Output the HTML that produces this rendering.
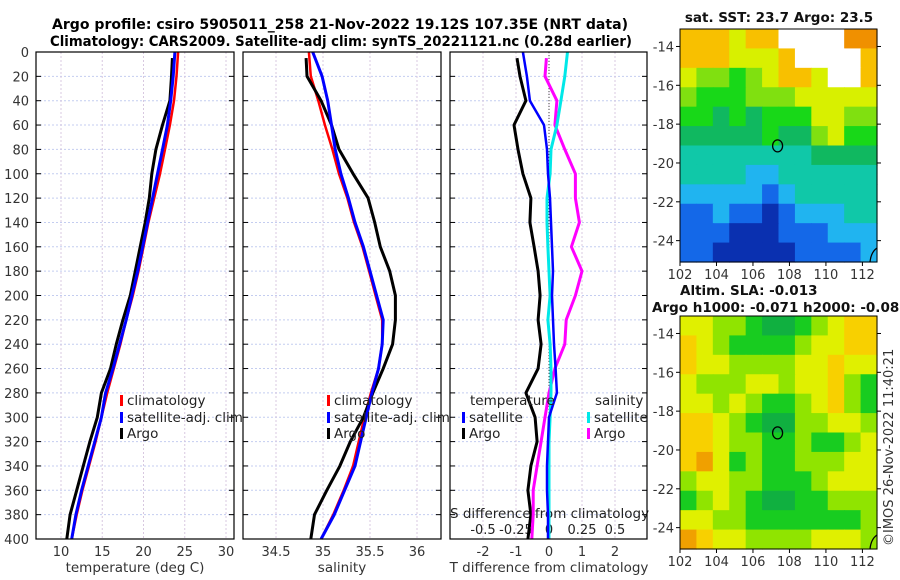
<!DOCTYPE html>
<html><head><meta charset="utf-8"><style>
body{margin:0;background:#fff;}
svg{display:block;font-family:"DejaVu Sans","Liberation Sans",sans-serif;}
</style></head><body>
<svg id="chart" width="900" height="580" viewBox="0 0 900 580" xmlns="http://www.w3.org/2000/svg">
<rect width="900" height="580" fill="#fff"/>
<text x="340" y="29" text-anchor="middle" font-size="14.5" font-weight="bold" font-family="DejaVu Sans, sans-serif" textLength="576" lengthAdjust="spacingAndGlyphs">Argo profile: csiro 5905011_258 21-Nov-2022 19.12S 107.35E (NRT data)</text>
<text x="341" y="46" text-anchor="middle" font-size="14.5" font-weight="bold" font-family="DejaVu Sans, sans-serif" textLength="582" lengthAdjust="spacingAndGlyphs">Climatology: CARS2009. Satellite-adj clim: synTS_20221121.nc (0.28d earlier)</text>
<g id="g"></g>
</svg>
<script>
// ---- profile data (depth in m) ----
const depths = [0,20,40,60,80,100,120,140,160,180,200,220,240,260,280,300,320,340,360,380,400];
const argoDepths = [5,20,40,60,80,100,120,140,160,180,200,220,240,260,280,300,320,340,360,380,400];
const tempClim = [24.2,24.0,23.7,23.2,22.6,22.0,21.3,20.6,20.0,19.4,18.7,17.9,17.2,16.4,15.6,14.9,14.2,13.4,12.6,11.9,11.3];
const tempSat  = [23.8,23.6,23.3,22.9,22.3,21.7,21.1,20.5,19.9,19.3,18.6,17.9,17.1,16.3,15.4,14.9,14.1,13.3,12.5,11.8,11.3];
const tempArgo = [23.5,23.4,23.2,22.3,21.5,21.0,20.7,20.2,19.6,19.0,18.4,17.5,16.7,16.0,14.9,14.4,13.5,12.7,11.9,11.1,10.7];
const salClim = [34.85,34.87,34.95,35.02,35.10,35.17,35.26,35.33,35.42,35.49,35.56,35.63,35.63,35.59,35.51,35.44,35.38,35.32,35.22,35.11,34.98];
const salSat  = [34.89,34.99,35.05,35.09,35.13,35.19,35.27,35.34,35.43,35.50,35.57,35.64,35.63,35.59,35.52,35.46,35.40,35.34,35.23,35.12,34.98];
const salArgo = [34.82,34.83,34.98,35.09,35.17,35.32,35.48,35.55,35.61,35.71,35.77,35.77,35.74,35.64,35.53,35.43,35.29,35.18,35.04,34.91,34.87];
const tDiffSat  = [-0.79,-0.67,-0.58,-0.15,-0.06,-0.03,0.03,0.06,0.09,0.12,0.09,0.12,0.15,0.2,0.24,0.0,-0.03,-0.06,-0.06,-0.03,-0.03];
const tDiffArgo = [-0.97,-0.88,-0.7,-1.06,-0.94,-0.79,-0.55,-0.58,-0.45,-0.33,-0.27,-0.33,-0.24,-0.33,-0.7,-0.42,-0.36,-0.55,-0.64,-0.55,-0.64];
const sDiffSat  = [0.14,0.12,0.09,0.06,0.015,0.008,-0.015,-0.015,-0.008,0.0,0.008,-0.008,0.008,0.015,0.015,0.008,0.0,0.0,0.0,0.0,0.0];
const sDiffArgo = [-0.02,-0.03,0.06,0.045,0.12,0.2,0.2,0.23,0.17,0.25,0.2,0.13,0.12,0.045,0.0,-0.03,-0.06,-0.09,-0.12,-0.12,-0.13];
const depthTicks = [0,20,40,60,80,100,120,140,160,180,200,220,240,260,280,300,320,340,360,380,400];
const tempTicks = [10,15,20,25,30];
const salTicks = [34.5,35,35.5,36];
const tDiffTicks = [-2,-1,0,1,2];
const sDiffTicks = [-0.5,-0.25,0,0.25,0.5];
const sDiffTickLabels = ['-0.5','-0.25','0','0.25','0.5'];
// ---- map data (colour class per cell, rows north->south, cols west->east) ----
const sstGrid = [
[8,8,8,7,8,8,-1,-1,-1,-1,9,9],
[8,8,8,7,7,7,8,-1,-1,-1,-1,8],
[7,6,6,5,6,7,8,8,7,-1,-1,8],
[6,5,5,5,6,6,6,7,7,7,7,7],
[5,5,4,5,4,5,5,5,7,7,6,6],
[4,4,4,4,4,5,4,4,6,7,5,5],
[3,3,3,3,3,3,3,3,4,4,4,4],
[3,3,3,3,2,2,3,3,3,3,3,3],
[2,2,2,2,2,1,2,3,3,3,3,3],
[1,1,2,1,1,0,1,2,2,2,3,3],
[1,1,1,0,0,0,1,1,1,2,2,2],
[1,1,0,0,0,0,0,1,1,1,1,2]];
const slaGrid = [
[7,7,6,6,5,4,4,5,6,7,8,8],
[8,7,6,5,5,5,5,6,7,7,8,8],
[8,7,7,6,6,6,6,7,7,8,7,7],
[7,6,6,6,7,7,6,7,7,8,6,5],
[7,7,6,7,6,5,5,6,7,8,6,5],
[8,8,7,6,5,4,4,6,6,7,7,6],
[8,8,7,6,6,5,5,6,5,5,6,7],
[8,9,7,5,6,5,5,6,6,6,7,7],
[6,7,7,6,6,5,5,5,6,7,7,7],
[5,6,7,6,5,4,4,5,5,6,6,6],
[7,7,6,6,5,5,5,5,5,5,5,6],
[9,8,7,7,6,6,6,6,7,7,7,6]];
const lonTicks = [102,104,106,108,110,112];
const latTicks = [-14,-16,-18,-20,-22,-24];
const argoLon = 107.35, argoLat = -19.12;

const NS='http://www.w3.org/2000/svg';
const G=document.getElementById('g');
function el(tag,attrs,parent){const e=document.createElementNS(NS,tag);for(const k in attrs)e.setAttribute(k,attrs[k]);(parent||G).appendChild(e);return e;}
function txt(s,attrs,parent){const e=el('text',attrs,parent);e.textContent=s;return e;}

const PT=52,PB=539;
const yD=d=>PT+(d/400)*(PB-PT);
function lin(d0,d1,r0,r1){return v=>r0+(v-d0)/(d1-d0)*(r1-r0);}
const panels=[
 {x0:36,x1:234,sx:lin(10,30,61,226),ticks:tempTicks,lab:tempTicks.map(String),name:'temperature-panel',xl:'temperature (deg C)'},
 {x0:243,x1:441,sx:lin(35,36,323,417),ticks:salTicks,lab:salTicks.map(String),name:'salinity-panel',xl:'salinity'},
 {x0:450,x1:647,sx:lin(0,1,549,582),ticks:tDiffTicks,lab:tDiffTicks.map(String),name:'difference-panel',xl:'T difference from climatology'}
];
panels.forEach((p,pi)=>{
  const g=el('g',{});
  
  
  depthTicks.forEach(d=>{
    const l=el('line',{x1:p.x0,x2:p.x1,y1:yD(d),y2:yD(d),stroke:'#c4cdf0','stroke-width':1,'stroke-dasharray':'2,2'},g);
    
    
    const t=el('line',{x1:p.x1-5,x2:p.x1,y1:yD(d),y2:yD(d),stroke:'#000'},g);
    
    
    const t2=el('line',{x1:p.x0,x2:p.x0+5,y1:yD(d),y2:yD(d),stroke:'#000'},g);
    
    
  });
  p.ticks.forEach((v,i)=>{
    const x=p.sx(v);
    const l=el('line',{x1:x,x2:x,y1:PT,y2:PB,stroke:'#d8c8e0','stroke-width':1,'stroke-dasharray':'2,2'},g);
    
    
    const t=txt(p.lab[i],{x:x,y:556,'text-anchor':'middle','font-size':13,fill:'#333'},g);
    
    
  });
  const xl=txt(p.xl,{x:(pi==2?549:(p.x0+p.x1)/2),y:572,'text-anchor':'middle','font-size':13.5,fill:'#333'},g);
  
  
  p.g=g;
});
depthTicks.forEach(d=>{
  const t=txt(String(d),{x:29,y:yD(d)+5,'text-anchor':'end','font-size':13,fill:'#333'});
  
  
});
const z=el('line',{x1:549,x2:549,y1:PT,y2:PB,stroke:'#444','stroke-width':1,'stroke-dasharray':'1,2'});


const sdx=lin(0,0.25,549,582);
sDiffTicks.forEach((v,i)=>{
  const t=txt(sDiffTickLabels[i],{x:sdx(v),y:534,'text-anchor':'middle','font-size':13,fill:'#222'});
  
  
});
const sdt=txt('S difference from climatology',{x:450,y:518,'font-size':13.5,fill:'#222'});



function line(vals,ds,sx,color,w,name,parent){
  const pts=vals.map((v,i)=>sx(v).toFixed(1)+','+yD(ds[i]).toFixed(1)).join(' ');
  const e=el('polyline',{points:pts,fill:'none',stroke:color,'stroke-width':w,'stroke-linejoin':'round'},parent);
  
  
}
const sT=panels[0].sx,sS=panels[1].sx,sTd=panels[2].sx;
line(tempClim,depths,sT,'#ff0000',2.5,'temperature-climatology-line');
line(tempArgo,argoDepths,sT,'#000',3,'temperature-argo-line');
line(tempSat,depths,sT,'#0000ff',3,'temperature-satellite-line');
line(salClim,depths,sS,'#ff0000',2.5,'salinity-climatology-line');
line(salArgo,argoDepths,sS,'#000',3,'salinity-argo-line');
line(salSat,depths,sS,'#0000ff',3,'salinity-satellite-line');
line(tDiffArgo,argoDepths,sTd,'#000',3,'t-diff-argo-line');
line(sDiffArgo,argoDepths,sdx,'#ff00ff',3,'s-diff-argo-line');
line(sDiffSat,depths,sdx,'#00e8e8',3,'s-diff-satellite-line');
line(tDiffSat,depths,sTd,'#0000ff',2.5,'t-diff-satellite-line');

panels.forEach(p=>{
  const r=el('rect',{x:p.x0,y:PT,width:p.x1-p.x0,height:PB-PT,fill:'none',stroke:'#000','stroke-width':1.2});
  
  
});
function legend(x,y,color,label,name){
  const g=el('g',{});
  
  
  el('rect',{x:x,y:y-10,width:3,height:11,fill:color},g);
  txt(label,{x:x+7,y:y,'font-size':13.5,fill:'#222'},g);
}
legend(120,405,'#ff0000','climatology','legend-climatology');
legend(120,422,'#0000ff','satellite-adj. clim','legend-satellite-adj');
legend(120,438,'#000','Argo','legend-argo');
legend(327,405,'#ff0000','climatology','legend-climatology-sal');
legend(327,422,'#0000ff','satellite-adj. clim','legend-satellite-adj-sal');
legend(327,438,'#000','Argo','legend-argo-sal');
const lt=txt('temperature',{x:470,y:405,'font-size':13.5,fill:'#222'});


const ls=txt('salinity',{x:595,y:405,'font-size':13.5,fill:'#222'});


legend(462,422,'#0000ff','satellite','legend-t-satellite');
legend(462,438,'#000','Argo','legend-t-argo');
legend(587,422,'#00e8e8','satellite','legend-s-satellite');
legend(587,438,'#ff00ff','Argo','legend-s-argo');

const sstPal=['#0a30b0','#1468e8','#20b4f0','#10c8a8','#10b860','#18d818','#80e010','#d8f000','#f8c000','#f09000'];
const slaPal=['#10a060','#10a060','#10a060','#10a060','#10b040','#18cc20','#90e400','#e0f000','#f8d000','#f0a000'];
function map(y0,y1,grid,pal,name){
  const x0=680,x1=877;
  const g=el('g',{});
  
  
  const lonX=lin(102,112.8,x0,x1), latY=lin(-13.1,-25.1,y0,y1);
  const rows=grid.length,cols=grid[0].length;
  const cw=(x1-x0)/cols,ch=(y1-y0)/rows;
  grid.forEach((row,r)=>row.forEach((v,c)=>{
    const cell=el('rect',{x:(x0+c*cw).toFixed(2),y:(y0+r*ch).toFixed(2),width:(cw+0.6).toFixed(2),height:(ch+0.6).toFixed(2),fill:v<0?'#fff':pal[v]},g);
    
    
  }));
  const fr=el('rect',{x:x0,y:y0,width:x1-x0,height:y1-y0,fill:'none',stroke:'#000','stroke-width':1},g);
  
  
  lonTicks.forEach(v=>{
    const x=lonX(v);
    el('line',{x1:x,x2:x,y1:y1,y2:y1+4,stroke:'#000'},g);
    const t=txt(String(v),{x:x,y:y1+17,'text-anchor':'middle','font-size':13,fill:'#333'},g);
    
    
  });
  latTicks.forEach(v=>{
    const y=latY(v);
    el('line',{x1:x0-4,x2:x0,y1:y,y2:y,stroke:'#000'},g);
    el('line',{x1:x1,x2:x1+4,y1:y,y2:y,stroke:'#000'},g);
    const t=txt(String(v),{x:x0-6,y:y+5,'text-anchor':'end','font-size':13,fill:'#333'},g);
    
    
  });
  const m=el('ellipse',{cx:lonX(argoLon),cy:latY(argoLat),rx:5,ry:6,fill:'none',stroke:'#000','stroke-width':1.3},g);
  
  
  const coast=el('path',{d:`M${x1-7} ${y1} Q${x1-6} ${y1-10} ${x1} ${y1-14}`,fill:'none',stroke:'#000','stroke-width':1.3},g);
  
  
}
map(29,262,sstGrid,sstPal,'sst-map');
map(316,549,slaGrid,slaPal,'sla-map');
const t1=txt('sat. SST: 23.7 Argo: 23.5',{x:779,y:22,'text-anchor':'middle','font-size':13.5,'font-weight':'bold',fill:'#111'});


const t2=txt('Altim. SLA: -0.013',{x:680,y:295,'font-size':13.5,'font-weight':'bold',fill:'#111'});


const t3=txt('Argo h1000: -0.071 h2000: -0.089',{x:652,y:312,'font-size':13.5,'font-weight':'bold',fill:'#111'});


const cp=txt('©IMOS 26-Nov-2022 11:40:21',{x:0,y:0,'font-size':13,fill:'#333',transform:'translate(893,546) rotate(-90)'});


</script>
</body></html>
